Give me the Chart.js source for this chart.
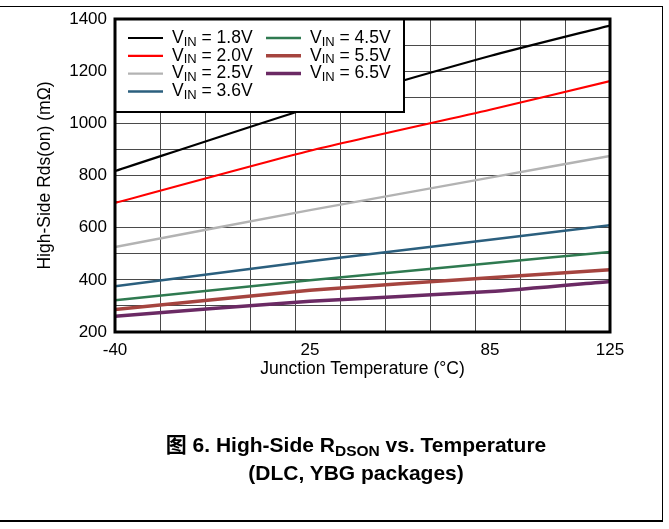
<!DOCTYPE html>
<html>
<head>
<meta charset="utf-8">
<script src="https://cdn.jsdelivr.net/npm/chart.js@4"></script>
<style>
body{margin:0;background:#fff}
#wrap{position:relative;width:669px;height:529px;overflow:hidden}
canvas{position:absolute;left:0;top:0}
.ln{position:absolute;background:#000}
#cap{position:absolute;left:44px;width:624px;top:431px;text-align:center;font:bold 21px "Liberation Sans",Arial,"Noto Sans CJK SC",sans-serif;line-height:28px;color:#000}
#cap sub{font-size:15.5px;vertical-align:-4px;line-height:0}
</style>
</head>
<body>
<div id="wrap">
<canvas id="chart" width="669" height="529"></canvas>
<div class="ln" style="left:0;top:6px;width:663px;height:1px"></div>
<div class="ln" style="left:662px;top:6px;width:1px;height:516px"></div>
<div class="ln" style="left:0;top:520px;width:663px;height:2px"></div>
<div id="cap">图 6. High-Side R<sub>DSON</sub> vs. Temperature<br>(DLC, YBG packages)</div>
</div>
<script>
const temps = [-40, 25, 85, 125];
const vin = ["1.8V", "2.0V", "2.5V", "3.6V", "4.5V", "5.5V", "6.5V"];
const r18 = [817, 1060, 1258, 1375];
const r20 = [695, 895, 1052, 1162];
const r25 = [526, 667, 792, 875];
const r36 = [375, 471, 554, 609];
const r45 = [322, 398, 464, 507];
const r55 = [286, 360, 408, 439];
const r65 = [260, 318, 355, 394];

const xGrid = [-40, -25, -10, 5, 20, 35, 50, 65, 80, 95, 110, 125];
const xLabels = [-40, 25, 85, 125];
const yLabels = [200, 400, 600, 800, 1000, 1200, 1400];

const colors = ["#000000", "#ff0000", "#b3b3b3", "#2b5f7e", "#2f7a50", "#a5443f", "#6b2a64"];
const widths = [2.2, 2.2, 2.4, 2.5, 2.5, 3.5, 3.5];
const series = [r18, r20, r25, r36, r45, r55, r65];

const FONT = "'Liberation Sans', Arial, sans-serif";
Chart.defaults.font.family = FONT;
Chart.defaults.font.size = 17;
Chart.defaults.color = "#000";

const legendBox = {
  id: "legendBox",
  afterDatasetsDraw(chart) {
    const { ctx, chartArea: a } = chart;
    const bx = a.left, by = a.top, bw = 289, bh = 93;
    ctx.save();
    ctx.fillStyle = "#fff";
    ctx.fillRect(bx, by, bw, bh);
    ctx.strokeStyle = "#000";
    ctx.lineWidth = 3;
    ctx.strokeRect(a.left, a.top, a.right - a.left, a.bottom - a.top);
    ctx.lineWidth = 2;
    ctx.strokeRect(bx, by, bw, bh);
    chart.data.datasets.forEach((ds, i) => {
      const col = i < 4 ? 0 : 1;
      const row = i < 4 ? i : i - 4;
      const x0 = bx + (col ? 151 : 13);
      const y = by + 19 + row * 17.8;
      ctx.strokeStyle = ds.borderColor;
      ctx.lineWidth = ds.borderWidth;
      ctx.beginPath();
      ctx.moveTo(x0, y);
      ctx.lineTo(x0 + 35, y);
      ctx.stroke();
      let tx = x0 + 44;
      ctx.fillStyle = "#000";
      ctx.textBaseline = "middle";
      ctx.font = "17.5px " + FONT;
      ctx.fillText("V", tx, y);
      tx += ctx.measureText("V").width;
      ctx.font = "13px " + FONT;
      ctx.fillText("IN", tx, y + 4);
      tx += ctx.measureText("IN").width;
      ctx.font = "17.5px " + FONT;
      ctx.fillText(" = " + vin[i], tx, y);
    });
    ctx.restore();
  }
};

new Chart(document.getElementById("chart"), {
  type: "line",
  data: {
    datasets: series.map((s, i) => ({
      label: "VIN = " + vin[i],
      data: s.map((v, j) => ({ x: temps[j], y: v })),
      borderColor: colors[i],
      borderWidth: widths[i],
      pointRadius: 0,
      tension: 0.2,
      fill: false
    }))
  },
  options: {
    responsive: false,
    animation: false,
    layout: { padding: { left: 0, top: 19, right: 59, bottom: 137 } },
    plugins: { legend: { display: false }, tooltip: { enabled: false } },
    scales: {
      x: {
        type: "linear",
        min: -40,
        max: 125,
        afterBuildTicks: s => { s.ticks = [...xGrid, 25, 85].sort((a, b) => a - b).map(v => ({ value: v })); },
        afterFit: s => { s.height = 60; },
        ticks: {
          autoSkip: false,
          maxRotation: 0,
          padding: 8,
          callback: v => xLabels.includes(v) ? String(v) : ""
        },
        grid: {
          drawTicks: false,
          color: c => (c.tick && (c.tick.value === 25 || c.tick.value === 85)) ? "rgba(0,0,0,0)" : "#4a4a4a"
        },
        border: { display: false },
        title: { display: true, text: "Junction Temperature (°C)", font: { size: 17.5 }, padding: { top: 4, bottom: 12 } }
      },
      y: {
        min: 200,
        max: 1400,
        afterFit: s => { s.width = 115; },
        ticks: {
          stepSize: 100,
          padding: 8,
          autoSkip: false,
          callback: v => yLabels.includes(v) ? String(v) : ""
        },
        grid: { drawTicks: false, color: "#4a4a4a" },
        border: { display: false },
        title: { display: true, text: "High-Side Rds(on) (mΩ)", font: { size: 17.5 }, padding: { top: 35, bottom: 4 } }
      }
    }
  },
  plugins: [legendBox]
});
</script>
</body>
</html>
